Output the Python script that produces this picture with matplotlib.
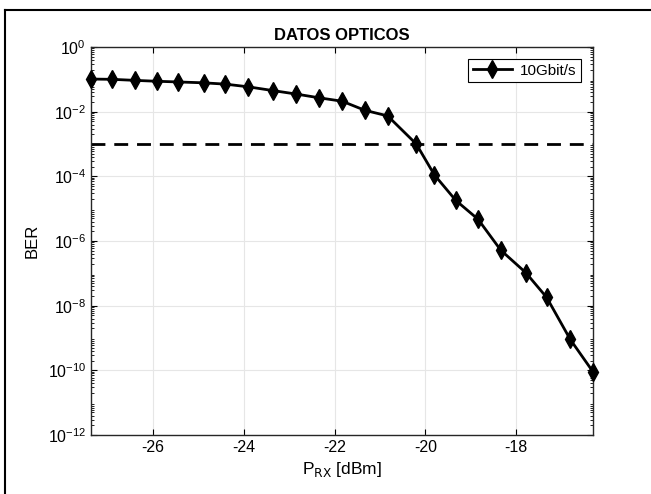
import numpy as np
import matplotlib
matplotlib.use("Agg")
from matplotlib import pyplot as plt
from matplotlib.lines import Line2D
from matplotlib.ticker import LogLocator, NullFormatter

plt.rcParams['font.family'] = ['Liberation Sans', 'DejaVu Sans']
plt.rcParams['axes.unicode_minus'] = False

# received power (dBm) and measured BER
p_rx = [-27.36, -26.89, -26.40, -25.90, -25.44, -24.88, -24.40, -23.91,
        -23.36, -22.84, -22.35, -21.83, -21.33, -20.83, -20.20, -19.80,
        -19.33, -18.84, -18.34, -17.79, -17.33, -16.81, -16.31]
ber = [0.102, 0.100, 0.093, 0.087, 0.083, 0.078, 0.071, 0.059,
       0.045, 0.035, 0.027, 0.021, 0.011, 0.0074, 1.0e-3, 1.1e-4,
       1.8e-5, 4.7e-6, 5.2e-7, 1.05e-7, 1.8e-8, 9e-10, 9e-11]
fec_limit = 1e-3
label = '10Gbit/s'

fig = plt.figure(figsize=(6.51, 4.94), dpi=100)
ax = fig.add_axes([91/651, 1 - 435/494, (593-91)/651, (435-47)/494])

ax.semilogy(p_rx, ber, '-kd', lw=2, ms=9, label=label, clip_on=False, zorder=5)
ax.axhline(fec_limit, color='k', ls=(0, (5, 3.2)), lw=2)

ax.set_xlim(min(p_rx), max(p_rx))
ax.set_ylim(1e-12, 1)
ax.set_xticks([-26, -24, -22, -20, -18])
ax.set_yticks([10.0**k for k in range(-12, 1, 2)])
ax.yaxis.set_minor_locator(LogLocator(base=10, subs=np.arange(2, 10), numticks=30))
ax.yaxis.set_minor_formatter(NullFormatter())
ax.tick_params(which='both', direction='in', top=True, right=True, labelsize=11.5)
ax.tick_params(which='major', length=4)
ax.tick_params(which='minor', length=2)
ax.grid(True, which='major', color='#e6e6e6', lw=0.8)
for s in ax.spines.values():
    s.set_linewidth(1.0)
    s.set_color('#262626')

ax.set_title('DATOS OPTICOS', fontweight='bold', fontsize=12, pad=5)
ax.set_ylabel('BER', fontsize=12, labelpad=6)
ax.set_xlabel(r'P$_{\mathrm{RX}}$ [dBm]', fontsize=12.5, labelpad=4)

leg = ax.legend(loc='upper right', fontsize=11, fancybox=False, framealpha=1,
                edgecolor='k', handlelength=2.6, handletextpad=0.5,
                borderpad=0.3, borderaxespad=0,
                bbox_to_anchor=(0.976, 0.969))
leg.get_frame().set_linewidth(0.8)

# partial frame around the figure (left and top)
fig.add_artist(Line2D([5/651, 5/651], [0, 1 - 10/494], color='k', lw=1.5,
                      transform=fig.transFigure))
fig.add_artist(Line2D([5/651, 1], [1 - 10/494, 1 - 10/494], color='k', lw=1.5,
                      transform=fig.transFigure))

fig.savefig('out.png', dpi=100)
